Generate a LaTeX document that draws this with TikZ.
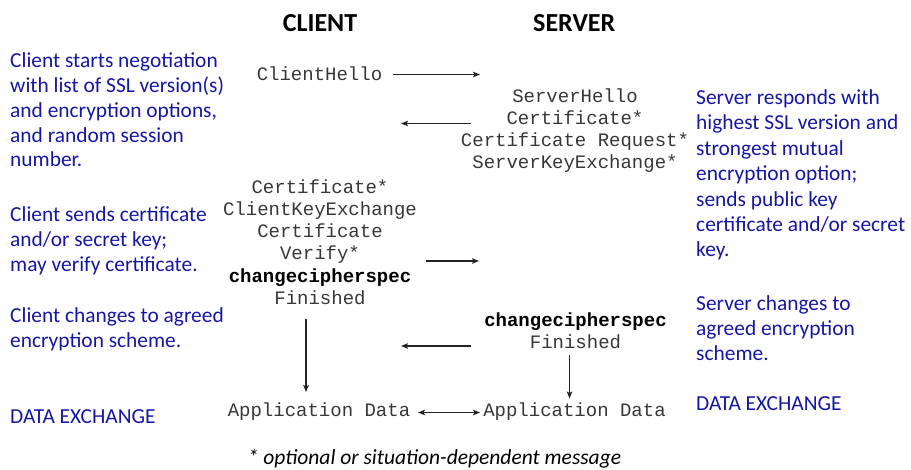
\documentclass[tikz,border=0pt]{standalone}
\usepackage{fontspec}
\setmainfont{Carlito}
\newfontfamily\monofont{Liberation Mono}
\usetikzlibrary{arrows.meta}
\definecolor{noteblue}{RGB}{22,22,165}
\definecolor{msggray}{RGB}{55,55,55}
\definecolor{linegray}{RGB}{35,35,35}
\newcommand{\stackl}[1]{\begin{tabular}[t]{@{}l@{}}#1\end{tabular}}
\newcommand{\stackc}[1]{\begin{tabular}[t]{@{}c@{}}#1\end{tabular}}
\newcommand{\kw}[1]{\textcolor{black}{\textbf{#1}}}
\tikzset{
  note/.style={anchor=base west, inner sep=0pt, text=noteblue,
    font=\fontsize{21.4}{25.2}\selectfont},
  msg/.style={anchor=base, inner sep=0pt, text=msggray,
    font=\monofont\fontsize{19}{22.2}\selectfont},
  header/.style={anchor=base, inner sep=0pt,
    font=\bfseries\fontsize{26}{30}\selectfont},
  tip/.tip={Stealth[length=7pt,width=5.5pt,inset=1.5pt]},
  flow/.style={draw=linegray, line width=1.2pt, -tip},
  both/.style={draw=linegray, line width=1.2pt, tip-tip}
}
\begin{document}
\begin{tikzpicture}[x=1pt,y=-1pt]
\useasboundingbox (0,0) rectangle (911,469);

% column headers
\node[header] (hdrC) at (320,31.7) {CLIENT};
\node[header] (hdrS) at (574.2,31.7) {SERVER};

% handshake messages
\node[msg] (cHello) at (319.5,80.7) {ClientHello};
\node[msg] (sHello) at (575,102) {\stackc{ServerHello\\Certificate*\\Certificate Request*\\ServerKeyExchange*}};
\node[msg] (cKey) at (320,193.3) {\stackc{Certificate*\\ClientKeyExchange\\Certificate\\Verify*\\\kw{changecipherspec}\\Finished}};
\node[msg] (sCCS) at (575.5,326.7) {\stackc{\kw{changecipherspec}\\Finished}};
\node[msg] (cApp) at (319,416.7) {Application Data};
\node[msg] (sApp) at (574.5,416.7) {Application Data};

% arrow end points
\coordinate (a1s) at (393,74.5);   \coordinate (a1e) at (480,74.5);
\coordinate (a2s) at (471,123.5);  \coordinate (a2e) at (401,123.5);
\coordinate (a3s) at (426,261);    \coordinate (a3e) at (479,261);
\coordinate (a4s) at (471,346);    \coordinate (a4e) at (401,346);
\coordinate (a5s) at (418,412.5);  \coordinate (a5e) at (480,412.5);
\coordinate (d1s) at (306,318.5);  \coordinate (d1e) at (306,392);
\coordinate (d2s) at (569.5,355);  \coordinate (d2e) at (569.5,398.5);

\draw[flow] (a1s) -- (a1e);
\draw[flow] (a2s) -- (a2e);
\draw[flow] (a3s) -- (a3e);
\draw[flow] (a4s) -- (a4e);
\draw[both] (a5s) -- (a5e);
\draw[flow] (d1s) -- (d1e);
\draw[flow] (d2s) -- (d2e);

% client side notes
\node[note, font=\fontsize{21.4}{24.9}\selectfont] (n1) at (10,67.3) {\stackl{Client starts negotiation\\with list of SSL version(s)\\and encryption options,\\and random session\\number.}};
\node[note] (n2) at (10,221) {\stackl{Client sends certificate\\and/or secret key;\\may verify certificate.}};
\node[note] (n3) at (10,322.2) {\stackl{Client changes to agreed\\encryption scheme.}};
\node[note] (n4) at (10,423.3) {DATA EXCHANGE};

% server side notes
\node[note, font=\fontsize{21.4}{25.4}\selectfont] (r1) at (696,104.5) {\stackl{Server responds with\\highest SSL version and\\strongest mutual\\encryption option;\\sends public key\\certificate and/or secret\\key.}};
\node[note] (r2) at (696,310) {\stackl{Server changes to\\agreed encryption\\scheme.}};
\node[note] (r3) at (696,410) {DATA EXCHANGE};

% footnote
\node[anchor=base, inner sep=0pt, font=\itshape\fontsize{21.5}{24}\selectfont] (foot) at (434.5,464) {* optional or situation-dependent message};
\end{tikzpicture}
\end{document}
